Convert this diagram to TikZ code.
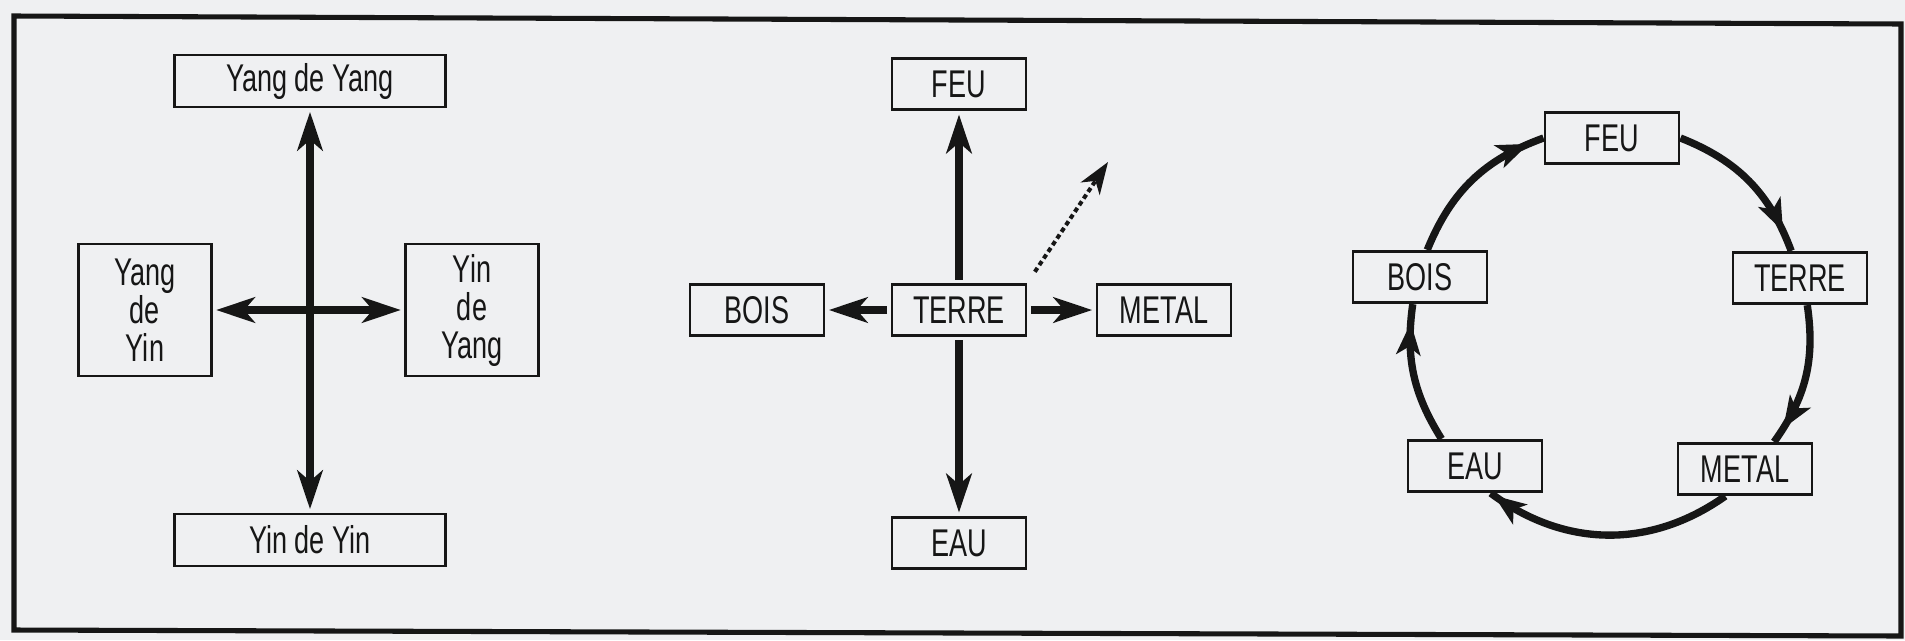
\documentclass[tikz,border=0pt]{standalone}
\usepackage{fontspec}
\newfontfamily\boxfont{Liberation Sans}[FakeStretch=0.7]
\usetikzlibrary{arrows.meta,decorations.markings}

\definecolor{paper}{RGB}{239,240,242}
\definecolor{ink}{RGB}{22,22,22}

\tikzset{every picture/.style={line width=0.75pt}}
\tikzset{
	fat/.tip={Stealth[length=29pt,width=19pt,inset=8pt]},
	ringtip/.tip={Stealth[length=24pt,width=18pt,inset=6pt]},
	dashtip/.tip={Stealth[length=24pt,width=17pt,inset=7pt]},
	elem/.style={draw=ink, line width=2.2pt, fill=paper, inner sep=0pt, minimum width=100.5pt, minimum height=38.5pt, text=ink, font=\boxfont\fontsize{29}{28.5}\selectfont, align=center},
	widebox/.style={elem, minimum width=203pt, minimum height=39pt},
	squarebox/.style={elem, minimum width=99.5pt, minimum height=99pt},
	bigline/.style={draw=ink, line width=5.5pt, shorten >=2.5pt, shorten <=2.5pt},
	ringarc/.style={draw=ink, line width=5.5pt, postaction={decorate}, decoration={markings, mark=at position -#1 with {\arrow{ringtip}}}},
	ringarc/.default=12pt,
	dashline/.style={draw=ink, line width=3pt, dash pattern=on 3.5pt off 2.5pt, shorten <=10pt, -dashtip}
}

\begin{document}
\begin{tikzpicture}[x=0.75pt,y=0.75pt,yscale=-1,xscale=1]
	\useasboundingbox (0,0) rectangle (1905,640);
	\fill[paper] (0,0) rectangle (1905,640);

	%Shape: Frame
	\draw[ink, line width=3.8pt, line join=miter] (14,16) -- (1901,24) -- (1901,636) -- (14,630) -- cycle ;

	% Yin / Yang cross
	\node[widebox] (yangyang) at (310,81) {Yang de Yang};
	\node[widebox] (yinyin) at (310,540) {Yin de Yin};
	\node[squarebox] (yangyin) at (145,310) {Yang\\de\\Yin};
	\node[squarebox] (yinyang) at (472,310) {Yin\\de\\Yang};

	\draw[bigline, fat-fat] (yangyang) -- (yinyin) ;
	\draw[bigline, fat-fat] (yangyin) -- (yinyang) ;

	% Terre in the centre
	\node[elem] (mfeu) at (959,84) {FEU};
	\node[elem] (mterre) at (959,310) {TERRE};
	\node[elem] (meau) at (959,543) {EAU};
	\node[elem] (mbois) at (757,310) {BOIS};
	\node[elem] (mmetal) at (1164,310) {METAL};
	\coordinate (dashend) at (1108,162);

	\draw[bigline, -fat] (mterre) -- (mfeu) ;
	\draw[bigline, -fat] (mterre) -- (meau) ;
	\draw[bigline, -fat] (mterre) -- (mbois) ;
	\draw[bigline, -fat] (mterre) -- (mmetal) ;
	\draw[dashline] (mterre.north east) -- (dashend) ;

	% Cycle
	\node[elem] (rfeu) at (1612,138) {FEU};
	\node[elem] (rterre) at (1800,278) {TERRE};
	\node[elem] (rmetal) at (1745,469) {METAL};
	\node[elem] (reau) at (1475,466) {EAU};
	\node[elem] (rbois) at (1420,277) {BOIS};

	\draw[ringarc] (rbois.75) to[bend right=24] (rfeu.west) ;
	\draw[ringarc=16pt] (rfeu.east) to[bend right=24] (rterre.108) ;
	\draw[ringarc] (rterre.-75) to[bend right=22] (rmetal.43) ;
	\draw[ringarc=3pt] (rmetal.234) to[bend right=36] (reau.-60) ;
	\draw[ringarc=14pt] (reau.141) to[bend right=20] (rbois.-105) ;

\end{tikzpicture}
\end{document}
